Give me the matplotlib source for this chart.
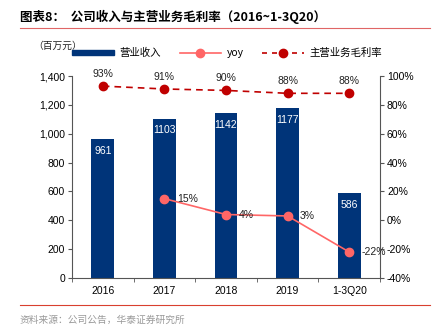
import matplotlib
matplotlib.use('Agg')
import matplotlib.pyplot as plt
from matplotlib.lines import Line2D
from matplotlib.patches import Patch
from matplotlib.ticker import FuncFormatter, FixedLocator

plt.rcParams['font.family'] = ['Liberation Sans', 'Noto Sans CJK SC', 'DejaVu Sans']

categories = ['2016', '2017', '2018', '2019', '1-3Q20']
revenue = [961, 1103, 1142, 1177, 586]
yoy = [None, 15, 4, 3, -22]
margin = [93, 91, 90, 88, 88]

navy = '#003479'
pink = '#FF6666'
darkred = '#C00000'

fig = plt.figure(figsize=(4.33, 3.32), dpi=100)
W, H = 433, 332
ax = fig.add_axes([72 / W, 1 - 278 / H, (380 - 72) / W, (278 - 76) / H])
ax2 = ax.twinx()

x = list(range(len(categories)))
bars = ax.bar(x, revenue, width=0.37, color=navy, zorder=2)
for xi, v in zip(x, revenue):
    ax.text(xi, v - 45, f'{v}', color='white', ha='center', va='top', fontsize=7.5)

ax.set_xlim(-0.5, len(categories) - 0.5)
ax.set_ylim(0, 1400)
ax.set_yticks(range(0, 1401, 200))
ax.yaxis.set_major_formatter(FuncFormatter(lambda v, p: f'{int(v):,}'))
ax.set_xticks(x)
ax.set_xticklabels(categories)
ax.tick_params(axis='x', length=0, labelsize=7.5, pad=6)
ax.xaxis.set_minor_locator(FixedLocator([i + 0.5 for i in range(-1, len(categories))]))
ax.tick_params(axis='x', which='minor', length=3, direction='out', color='#555555')
ax.tick_params(axis='y', labelsize=7.5, length=3, color='#555555', pad=2)

ax2.set_ylim(-40, 100)
ax2.set_yticks(range(-40, 101, 20))
ax2.yaxis.set_major_formatter(FuncFormatter(lambda v, p: f'{int(v)}%'))
ax2.tick_params(axis='y', labelsize=7.5, length=3, color='#555555', pad=2)

for a in (ax, ax2):
    a.spines['top'].set_visible(False)
    for s in ('left', 'right', 'bottom'):
        a.spines[s].set_color('#555555')
        a.spines[s].set_linewidth(0.8)
ax.spines['right'].set_visible(False)
ax2.spines['left'].set_visible(False)
ax2.spines['bottom'].set_visible(False)

# yoy line (no value for the first year)
yx = [xi for xi, v in zip(x, yoy) if v is not None]
yv = [v for v in yoy if v is not None]
ax2.plot(yx, yv, color=pink, lw=1.2, marker='o', ms=6, zorder=3)
for xi, v in zip(yx, yv):
    ax2.text(xi + 0.2, v, f'{v}%', ha='left', va='center', fontsize=7.5, color='#222222')

ax2.plot(x, margin, color=darkred, lw=1.2, ls=(0, (4, 3)), marker='o', ms=6, zorder=3)
for xi, v in zip(x, margin):
    ax2.text(xi, v + 5, f'{v}%', ha='center', va='bottom', fontsize=7.5, color='#222222')

# legend row
handles = [
    Patch(color=navy),
    Line2D([], [], color=pink, lw=1.2, marker='o', ms=6),
    Line2D([], [], color=darkred, lw=1.2, ls=(0, (3, 3)), marker='o', ms=6),
]
labels = ['营业收入', 'yoy', '主营业务毛利率']
fig.legend(handles, labels, loc='center left', bbox_to_anchor=(63 / W, 1 - 53 / H),
           ncol=3, frameon=False, handlelength=4.0, handleheight=0.45,
           columnspacing=1.8, handletextpad=0.5,
           prop={'family': ['Noto Sans CJK SC', 'DejaVu Sans'], 'size': 7.5})
fig.text(33 / W, 1 - 46 / H, '（百万元）', fontsize=7, family=['Noto Sans CJK SC'],
         color='#222222', va='center')

# title and source
fig.text(20 / W, 1 - 17 / H, '图表8：  公司收入与主营业务毛利率（2016~1-3Q20）', fontsize=9,
         fontweight='bold', family=['Noto Sans CJK SC', 'DejaVu Sans'], va='center')
fig.add_artist(Line2D([20 / W, 430 / W], [1 - 28 / H, 1 - 28 / H], color='#E06666', lw=0.8))
fig.add_artist(Line2D([20 / W, 430 / W], [1 - 305 / H, 1 - 305 / H], color='#D9402F', lw=0.8))
fig.text(20 / W, 1 - 320 / H, '资料来源：公司公告，华泰证券研究所', fontsize=7,
         family=['Noto Sans CJK SC'], color='#999999', va='center')

fig.savefig('out.png', dpi=100)
